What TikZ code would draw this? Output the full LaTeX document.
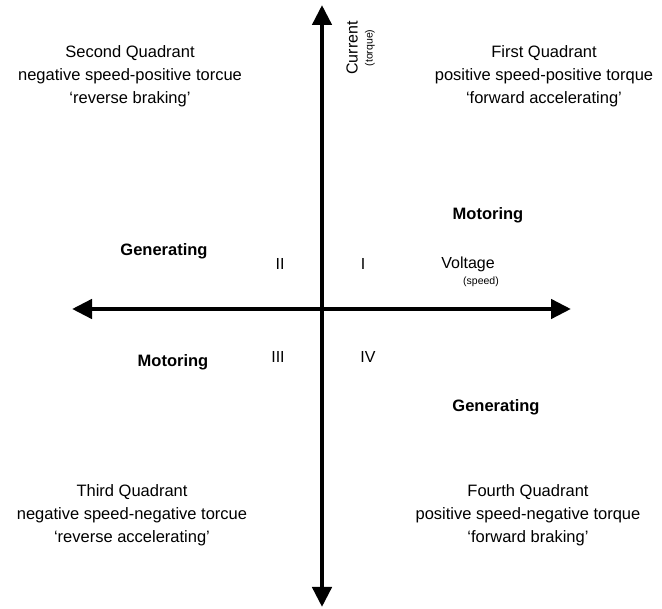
\documentclass[tikz,border=0pt]{standalone}
\usepackage{fontspec}
\setmainfont{Liberation Sans}
\usetikzlibrary{arrows.meta}

\tikzstyle{axisarrow}=[{Triangle[length=20pt,width=19pt]}-{Triangle[length=20pt,width=19pt]}, line width=4.5pt]
\tikzstyle{quadtext}=[align=center, inner sep=0pt, font=\fontsize{16.5}{23}\selectfont]
\tikzstyle{modetext}=[inner sep=0pt, font=\fontsize{16.5}{20}\selectfont\bfseries]
\tikzstyle{numtext}=[inner sep=0pt, font=\fontsize{16}{20}\selectfont]
\tikzstyle{smalltext}=[inner sep=0pt, font=\fontsize{10.5}{12}\selectfont]

\begin{document}
\begin{tikzpicture}[x=1pt, y=-1pt]
    \useasboundingbox (0,0) rectangle (662,609);

    % axes
    \coordinate (left) at (72,309);
    \coordinate (right) at (571,309);
    \coordinate (top) at (322,5);
    \coordinate (bottom) at (322,607);
    \draw[axisarrow] (left) -- (right);
    \draw[axisarrow] (bottom) -- (top);

    % axis labels
    \node (current) at (352,48) [numtext, rotate=90] {Current};
    \node (torque) at (370,48) [smalltext, rotate=90] {(torque)};
    \node (voltage) at (468,264) [numtext] {Voltage};
    \node (speed) at (481,282) [smalltext] {(speed)};

    % quadrant numbers
    \node (qI) at (363,264) [numtext] {I};
    \node (qII) at (280,264) [numtext] {II};
    \node (qIII) at (278,357) [numtext] {III};
    \node (qIV) at (368,357) [numtext] {IV};

    % operating modes
    \node (motorI) at (488,215) [modetext] {Motoring};
    \node (genII) at (164,251) [modetext] {Generating};
    \node (motorIII) at (173,362) [modetext] {Motoring};
    \node (genIV) at (496,407) [modetext] {Generating};

    % quadrant descriptions
    \node (first) at (544,76) [quadtext] {First Quadrant\\positive speed-positive torque\\`forward accelerating'};
    \node (second) at (130,76) [quadtext] {Second Quadrant\\negative speed-positive torcue\\`reverse braking'};
    \node (third) at (132,515) [quadtext] {Third Quadrant\\negative speed-negative torcue\\`reverse accelerating'};
    \node (fourth) at (528,515) [quadtext] {Fourth Quadrant\\positive speed-negative torque\\`forward braking'};
\end{tikzpicture}
\end{document}
